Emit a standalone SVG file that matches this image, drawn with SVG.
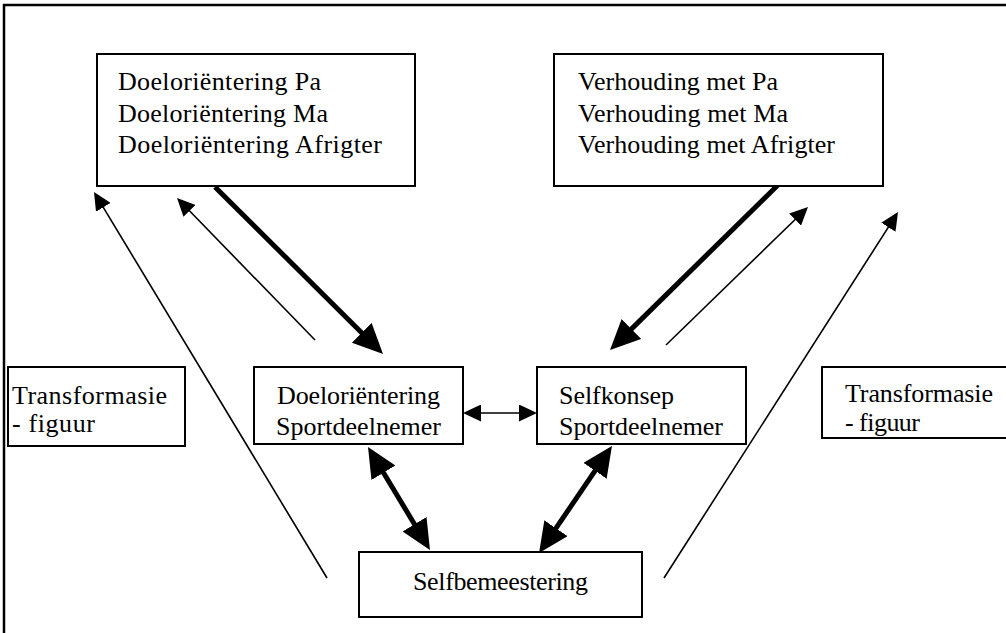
<svg xmlns="http://www.w3.org/2000/svg" width="1006" height="633" viewBox="0 0 1006 633">
<style>
.box{fill:#fff;stroke:#000;stroke-width:2}
.t{font-family:"Liberation Serif","Times New Roman",serif;font-size:26px;fill:#000}
.thick{stroke:#000;stroke-width:5;fill:none}
.thin{stroke:#000;stroke-width:1.6;fill:none}
</style>
<defs>
<marker id="hk" markerUnits="userSpaceOnUse" markerWidth="30" markerHeight="28" refX="18" refY="14" orient="auto-start-reverse" viewBox="0 0 30 28">
<path d="M0,0 L30,14 L0,28 z" fill="#000"/>
</marker>
<marker id="hn" markerUnits="userSpaceOnUse" markerWidth="18" markerHeight="17" refX="12" refY="8.5" orient="auto-start-reverse" viewBox="0 0 18 17">
<path d="M0,0 L18,8.5 L0,17 z" fill="#000"/>
</marker>
</defs>
<rect width="1006" height="633" fill="#fff"/>
<path d="M4,633 L4,5 L1006,5" fill="none" stroke="#000" stroke-width="2.5"/>

<g id="connectors">
<line class="thick" x1="215" y1="187" x2="374.5" y2="345.5" marker-end="url(#hk)"/>
<line class="thick" x1="782" y1="181" x2="618.6" y2="341.6" marker-end="url(#hk)"/>
<line class="thick" x1="374.2" y1="457.3" x2="423.8" y2="539.7" marker-start="url(#hk)" marker-end="url(#hk)"/>
<line class="thick" x1="605.2" y1="455.9" x2="545.8" y2="543.1" marker-start="url(#hk)" marker-end="url(#hk)"/>
<line class="thin" x1="315" y1="340" x2="181.2" y2="202.3" marker-end="url(#hn)"/>
<line class="thin" x1="666" y1="345" x2="803.7" y2="211.2" marker-end="url(#hn)"/>
<line class="thin" x1="327" y1="578" x2="97.1" y2="197.1" marker-end="url(#hn)"/>
<line class="thin" x1="664" y1="578" x2="894.8" y2="217.1" marker-end="url(#hn)"/>
<line class="thin" x1="469" y1="413" x2="531" y2="413" marker-start="url(#hn)" marker-end="url(#hn)"/>
</g>

<g id="doel-ouers">
<rect class="box" x="97" y="54" width="318" height="132"/>
<text class="t" x="118" y="90" textLength="203" lengthAdjust="spacing">Doeloriëntering  Pa</text>
<text class="t" x="118" y="122" textLength="210" lengthAdjust="spacing">Doeloriëntering  Ma</text>
<text class="t" x="118" y="153" textLength="264" lengthAdjust="spacing">Doeloriëntering  Afrigter</text>
</g>

<g id="verhouding">
<rect class="box" x="554" y="54" width="329" height="132"/>
<text class="t" x="578" y="90" textLength="200" lengthAdjust="spacing">Verhouding met Pa</text>
<text class="t" x="578" y="122" textLength="210" lengthAdjust="spacing">Verhouding met Ma</text>
<text class="t" x="578" y="153" textLength="257" lengthAdjust="spacing">Verhouding met Afrigter</text>
</g>

<g id="transformasie-links">
<rect class="box" x="8" y="367" width="177" height="79"/>
<text class="t" x="12" y="404" textLength="155" lengthAdjust="spacing">Transformasie</text>
<text class="t" x="12" y="432" textLength="83" lengthAdjust="spacing">- figuur</text>
</g>

<g id="doel-sport">
<rect class="box" x="254" y="367" width="209" height="77"/>
<text class="t" x="277" y="404" textLength="163" lengthAdjust="spacing">Doeloriëntering</text>
<text class="t" x="276" y="435" textLength="165" lengthAdjust="spacing">Sportdeelnemer</text>
</g>

<g id="selfkonsep">
<rect class="box" x="537" y="367" width="209" height="77"/>
<text class="t" x="559" y="404" textLength="115" lengthAdjust="spacing">Selfkonsep</text>
<text class="t" x="559" y="435" textLength="164" lengthAdjust="spacing">Sportdeelnemer</text>
</g>

<g id="transformasie-regs">
<rect class="box" x="822" y="367" width="200" height="71"/>
<text class="t" x="845" y="402" textLength="148" lengthAdjust="spacing">Transformasie</text>
<text class="t" x="845" y="431" textLength="75" lengthAdjust="spacing">- figuur</text>
</g>

<g id="selfbemeestering">
<rect class="box" x="359" y="552" width="283" height="65"/>
<text class="t" x="413" y="590" textLength="175" lengthAdjust="spacing">Selfbemeestering</text>
</g>
</svg>
